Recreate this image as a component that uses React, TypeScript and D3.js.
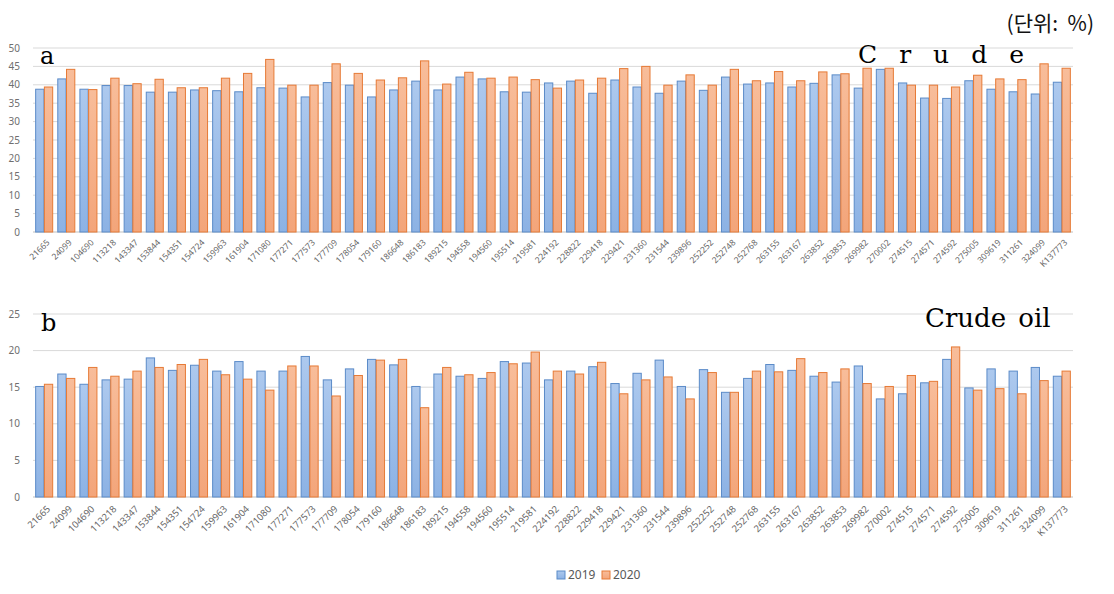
import React from "react";
import * as d3 from "d3";

// category codes (same for both panels)
const codes = [
  "21665", "24099", "104690", "113218", "143347", "153844", "154351", "154724",
  "159963", "161904", "171080", "177271", "177573", "177709", "178054", "179160",
  "186648", "186183", "189215", "194558", "194560", "195514", "219581", "224192",
  "228822", "229418", "229421", "231360", "231544", "239896", "252252", "252748",
  "252768", "263155", "263167", "263852", "263853", "269982", "270002", "274515",
  "274571", "274592", "275005", "309619", "311261", "324099", "K137773",
];
const years = ["2019", "2020"];

// panel a
const a2019 = [
  38.8, 41.6, 38.8, 39.8, 39.8, 38.0, 38.0, 38.6, 38.4, 38.1, 39.2, 39.1, 36.7, 40.6, 39.9, 36.7,
  38.6, 41.0, 38.6, 42.1, 41.6, 38.1, 38.0, 40.5, 41.0, 37.7, 41.3, 39.4, 37.7, 41.0, 38.5, 42.1,
  40.2, 40.5, 39.4, 40.4, 42.7, 39.1, 44.2, 40.5, 36.4, 36.3, 41.1, 38.8, 38.1, 37.5, 40.7,
];
const a2020 = [
  39.4, 44.2, 38.7, 41.8, 40.3, 41.5, 39.2, 39.2, 41.8, 43.1, 46.9, 39.9, 39.9, 45.7, 43.1, 41.3,
  41.9, 46.5, 40.2, 43.4, 41.8, 42.1, 41.4, 39.1, 41.3, 41.8, 44.4, 45.0, 39.9, 42.7, 39.9, 44.2,
  41.1, 43.6, 41.1, 43.5, 43.0, 44.5, 44.5, 39.9, 39.9, 39.4, 42.6, 41.6, 41.4, 45.7, 44.5,
];
const aTicks = [0, 5, 10, 15, 20, 25, 30, 35, 40, 45, 50];

// panel b
const b2019 = [
  15.1, 16.8, 15.4, 16.0, 16.1, 19.0, 17.3, 18.0, 17.2, 18.5, 17.2, 17.2, 19.2, 16.0, 17.5, 18.8,
  18.05, 15.1, 16.8, 16.5, 16.2, 18.5, 18.3, 16.0, 17.2, 17.8, 15.5, 16.9, 18.7, 15.1, 17.4, 14.3,
  16.2, 18.1, 17.3, 16.5, 15.7, 17.9, 13.4, 14.1, 15.6, 18.8, 14.9, 17.5, 17.2, 17.7, 16.5,
];
const b2020 = [
  15.4, 16.2, 17.7, 16.5, 17.2, 17.7, 18.1, 18.8, 16.7, 16.1, 14.6, 17.9, 17.9, 13.8, 16.6, 18.7,
  18.8, 12.2, 17.7, 16.7, 17.0, 18.2, 19.8, 17.2, 16.8, 18.4, 14.1, 16.0, 16.4, 13.4, 17.0, 14.3,
  17.2, 17.1, 18.9, 17.0, 17.5, 15.5, 15.1, 16.6, 15.8, 20.5, 14.6, 14.8, 14.1, 15.9, 17.2,
];
const bTicks = [0, 5, 10, 15, 20, 25];

const W = 1114;
const H = 594;
const fills = ["url(#gBlue)", "url(#gOrange)"];
const strokes = ["#5b8bc8", "#e67a36"];

type PanelProps = {
  s2019: number[];
  s2020: number[];
  ticks: number[];
  top: number;
  bottom: number;
  labelSize: number;
  labelY: number;
};

const Panel = ({ s2019, s2020, ticks, top, bottom, labelSize, labelY }: PanelProps) => {
  const x = d3.scaleBand<string>().domain(codes).range([33, 1073]).paddingInner(0.23).paddingOuter(0.12);
  const x1 = d3.scaleBand<string>().domain(years).range([0, x.bandwidth()]).paddingInner(0.05);
  const y = d3.scaleLinear().domain([0, d3.max(ticks)!]).range([bottom, top]);
  const series = [s2019, s2020];
  return (
    <g>
      {ticks.map((t) => (
        <g key={t}>
          <line x1={33} x2={1073} y1={y(t)} y2={y(t)} stroke={t === 0 ? "#bfbfbf" : "#d9d9d9"} strokeWidth={1} />
          <text x={20} y={y(t)} dy="0.35em" textAnchor="end" fontSize={10} fill="#6f6f6f"
            fontFamily="'Noto Sans', sans-serif">{t}</text>
        </g>
      ))}
      {codes.map((c, i) => (
        <g key={c} transform={`translate(${x(c)},0)`}>
          {series.map((s, k) => (
            <rect key={k} x={x1(years[k])} y={y(s[i])} width={x1.bandwidth()} height={bottom - y(s[i])}
              fill={fills[k]} stroke={strokes[k]} strokeWidth={1} />
          ))}
        </g>
      ))}
      {codes.map((c) => {
        const cx = x(c)! + x.bandwidth() / 2;
        return (
          <text key={c} transform={`translate(${cx + 1},${labelY}) rotate(-45)`} textAnchor="end"
            dominantBaseline="hanging" fontSize={labelSize} fill="#666"
            fontFamily="'Noto Sans', sans-serif">{c}</text>
        );
      })}
    </g>
  );
};

export default function App() {
  return (
    <svg width={W} height={H} style={{ position: "absolute", left: 0, top: 0, background: "#fff" }}>
      <defs>
        <linearGradient id="gBlue" x1="0" y1="0" x2="0" y2="1">
          <stop offset="0" stopColor="#adc9ee" />
          <stop offset="1" stopColor="#8cb2e4" />
        </linearGradient>
        <linearGradient id="gOrange" x1="0" y1="0" x2="0" y2="1">
          <stop offset="0" stopColor="#f8bd9a" />
          <stop offset="1" stopColor="#f3a57a" />
        </linearGradient>
      </defs>
      <rect width={W} height={H} fill="#fff" />
      <Panel s2019={a2019} s2020={a2020} ticks={aTicks} top={48} bottom={232} labelSize={8.5} labelY={238} />
      <Panel s2019={b2019} s2020={b2020} ticks={bTicks} top={314} bottom={497} labelSize={9.5} labelY={504} />

      <text x={1094} y={31} textAnchor="end" fontSize={21} fill="#111"
        fontFamily="'Noto Sans CJK KR', sans-serif" xmlSpace="preserve">(단위:  %)</text>
      <text x={40} y={64} fontSize={24} fill="#000" fontFamily="'DejaVu Serif', serif">a</text>
      <text x={858} y={63} fontSize={25} fill="#000" letterSpacing={22}
        fontFamily="'DejaVu Serif', serif">Crude</text>
      <text x={41} y={331} fontSize={24} fill="#000" fontFamily="'DejaVu Serif', serif">b</text>
      <text x={925} y={327} fontSize={26} fill="#000" fontFamily="'DejaVu Serif', serif" wordSpacing={4}>Crude oil</text>

      <g fontFamily="'Noto Sans', sans-serif" fontSize={12} fill="#595959">
        <rect x={557} y={571} width={8} height={8} fill="url(#gBlue)" stroke={strokes[0]} />
        <text x={568} y={575} dy="0.35em">{years[0]}</text>
        <rect x={602} y={571} width={8} height={8} fill="url(#gOrange)" stroke={strokes[1]} />
        <text x={613} y={575} dy="0.35em">{years[1]}</text>
      </g>
    </svg>
  );
}
